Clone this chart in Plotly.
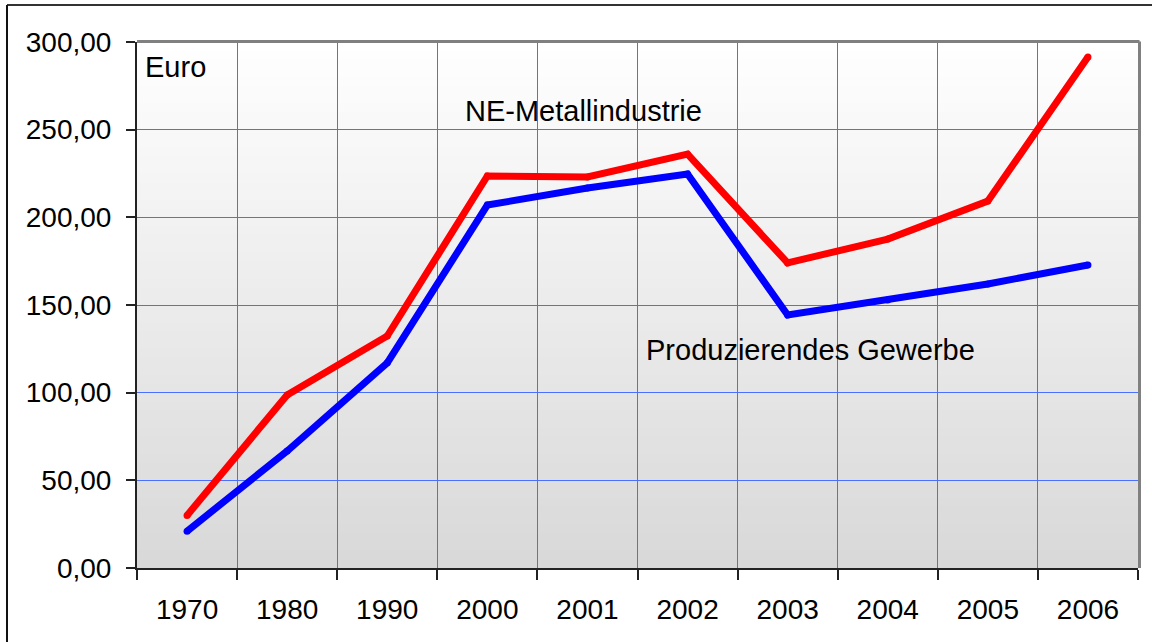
import plotly.graph_objects as go

years = ["1970", "1980", "1990", "2000", "2001", "2002", "2003", "2004", "2005", "2006"]
ne_metall = [30.0, 98.7, 132.3, 223.6, 223.0, 236.0, 174.0, 187.6, 209.3, 291.4]
prod_gewerbe = [21.0, 66.7, 117.0, 207.0, 216.7, 224.7, 144.3, 152.8, 162.0, 172.8]

W, H = 1152, 642
L, R, T, B = 137, 1138, 42, 568
pw, ph = R - L, B - T

def px_x(x):
    return (x - L) / pw

def px_y(y):
    return (B - y) / ph

FONT = "Liberation Sans, Arial, sans-serif"
GRID = "#4a70ff"

fig = go.Figure()
fig.add_trace(go.Scatter(x=years, y=prod_gewerbe, mode="lines+markers",
                         line=dict(color="#0000ff", width=7),
                         marker=dict(color="#0000ff", size=7, line=dict(width=0)),
                         showlegend=False))
fig.add_trace(go.Scatter(x=years, y=ne_metall, mode="lines+markers",
                         line=dict(color="#ff0000", width=7),
                         marker=dict(color="#ff0000", size=7, line=dict(width=0)),
                         showlegend=False))

shapes = []
# gradient background (inside the subplot, below the grid)
n = 60
for i in range(n):
    t = (i + 0.5) / n  # 0 bottom -> 1 top
    v = int(round(0xd8 + (0xff - 0xd8) * t))
    col = f"rgb({v},{v},{v})"
    shapes.append(dict(type="rect", xref="x domain", yref="y domain",
                       x0=0, x1=1, y0=i / n, y1=min(1, (i + 1) / n + 0.002),
                       fillcolor=col, line=dict(width=0), layer="below"))
# plot border top/right gray
shapes.append(dict(type="line", xref="paper", yref="paper", x0=0, x1=1.0015, y0=1.001, y1=1.001,
                   line=dict(color="#808080", width=3)))
shapes.append(dict(type="line", xref="paper", yref="paper", x0=1.0015, x1=1.0015, y0=0, y1=1.001,
                   line=dict(color="#808080", width=3)))
# outer frame (top and left)
fx = px_x(7)
fy = px_y(5)
shapes.append(dict(type="line", xref="paper", yref="paper", x0=fx, x1=px_x(1160), y0=fy, y1=fy,
                   line=dict(color="#333333", width=2)))
shapes.append(dict(type="line", xref="paper", yref="paper", x0=fx, x1=fx, y0=fy, y1=px_y(650),
                   line=dict(color="#111111", width=2)))

annotations = [
    dict(text="Euro", x=px_x(143), y=px_y(67), xref="paper", yref="paper",
         xanchor="left", yanchor="middle", showarrow=False,
         font=dict(family=FONT, size=29, color="black")),
    dict(text="NE-Metallindustrie", x=px_x(463), y=px_y(111), xref="paper", yref="paper",
         xanchor="left", yanchor="middle", showarrow=False,
         font=dict(family=FONT, size=29, color="black")),
    dict(text="Produzierendes Gewerbe", x=px_x(644), y=px_y(350), xref="paper", yref="paper",
         xanchor="left", yanchor="middle", showarrow=False,
         font=dict(family=FONT, size=29, color="black")),
]

fig.update_layout(
    width=W, height=H,
    margin=dict(l=L, r=W - R, t=T, b=H - B),
    paper_bgcolor="white", plot_bgcolor="white",
    separators=",.",
    shapes=shapes, annotations=annotations,
    font=dict(family=FONT, size=28, color="black"),
)
fig.update_xaxes(type="category", tickson="boundaries", ticks="outside", ticklen=10,
                 tickwidth=2, tickcolor="#222222",
                 showgrid=True, gridcolor=GRID, gridwidth=1,
                 showline=True, linecolor="#222222", linewidth=2,
                 range=[-0.5, 9.5], ticklabelstandoff=15,
                 tickfont=dict(family=FONT, size=28, color="black"))
fig.update_yaxes(range=[0, 300], dtick=50, tickformat=".2f",
                 ticks="outside", ticklen=9, tickwidth=2, tickcolor="#222222",
                 showgrid=True, gridcolor=GRID, gridwidth=1,
                 showline=True, linecolor="#222222", linewidth=2,
                 zeroline=False, ticklabelstandoff=9,
                 tickfont=dict(family=FONT, size=28, color="black"))

fig.write_html("out.html", config={"displayModeBar": False},
               post_script="document.body.style.margin='0';document.body.style.overflow='hidden';")
